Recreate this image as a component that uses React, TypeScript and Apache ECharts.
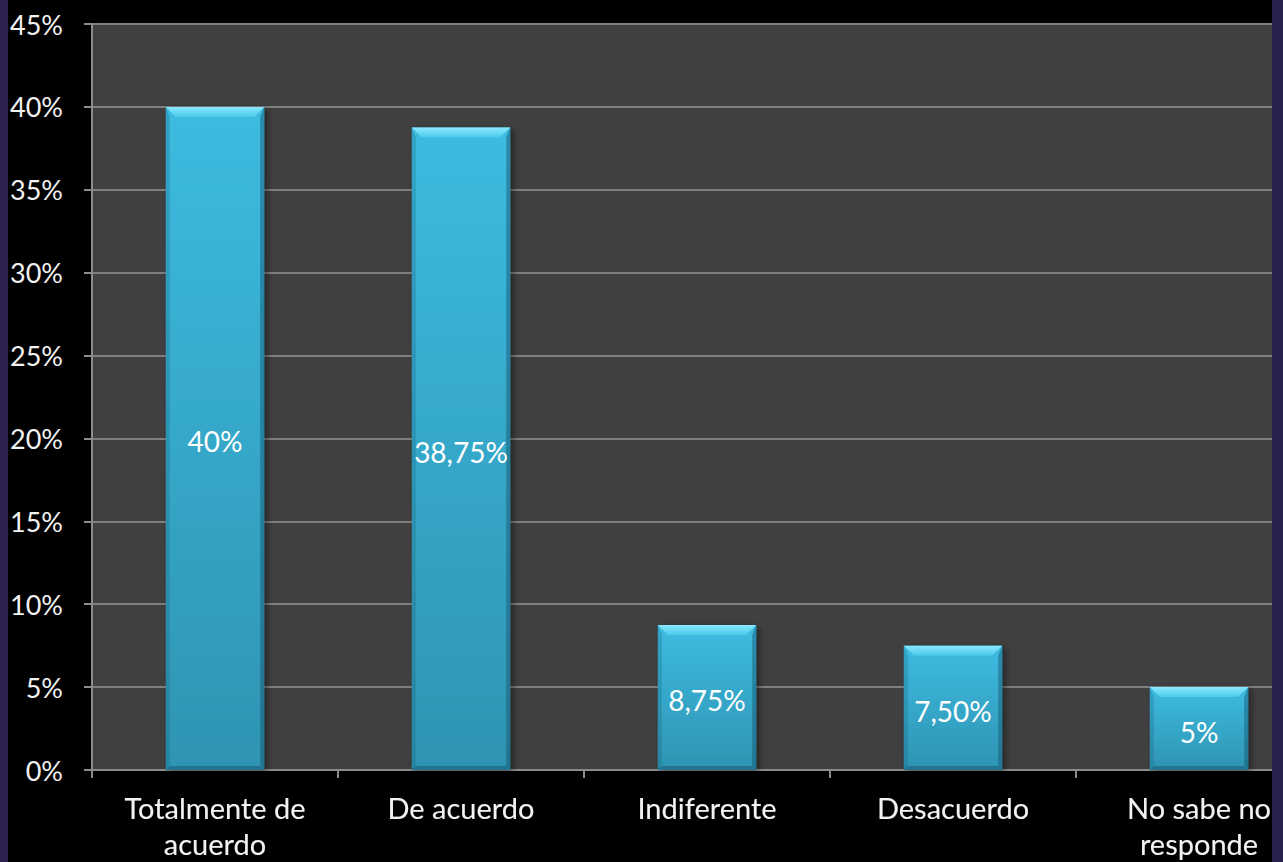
import React, { useEffect, useRef } from "react";
import * as echarts from "echarts";

const categories = ["Totalmente de\nacuerdo", "De acuerdo", "Indiferente", "Desacuerdo", "No sabe no\nresponde"];
const values = [40, 38.75, 8.75, 7.5, 5];
const yTicks = { min: 0, max: 45, interval: 5 };

const fmt = (v: number) => (Number.isInteger(v) ? `${v}%` : `${v.toFixed(2).replace(".", ",")}%`);

export default function App() {
  const ref = useRef<HTMLDivElement>(null);
  useEffect(() => {
    if (!ref.current) return;
    const chart = echarts.init(ref.current, undefined, { renderer: "svg" });
    const font = "Lato, 'Open Sans', sans-serif";
    chart.setOption({
      animation: false,
      backgroundColor: "#000000",
      grid: {
        left: 92,
        top: 24,
        bottom: 92,
        right: 8,
        backgroundColor: "#404040",
        show: true,
        borderWidth: 0,
        containLabel: false,
        outerBoundsMode: "none",
      },
      xAxis: {
        type: "category",
        data: categories,
        axisLine: { lineStyle: { color: "#8c8c8c", width: 2 } },
        axisTick: { show: true, length: 8, lineStyle: { color: "#8c8c8c", width: 2 } },
        axisLabel: {
          color: "#f2f2f2",
          fontSize: 29,
          fontFamily: font,
          margin: 19,
          lineHeight: 36,
          textShadowColor: "rgba(0,0,0,0.6)",
          textShadowBlur: 2,
        },
      },
      yAxis: {
        type: "value",
        min: yTicks.min,
        max: yTicks.max,
        interval: yTicks.interval,
        axisLine: { show: true, lineStyle: { color: "#8c8c8c", width: 2 } },
        axisTick: { show: true, length: 8, lineStyle: { color: "#8c8c8c", width: 2 } },
        axisLabel: { color: "#f2f2f2", fontSize: 27, fontFamily: font, margin: 29, formatter: "{value}%" },
        splitLine: { lineStyle: { color: "#7f7f7f", width: 2 } },
      },
      series: [
        {
          type: "custom",
          data: values.map((v, i) => [i, v]),
          encode: { x: 0, y: 1 },
          renderItem: (params: any, api: any) => {
            const v = api.value(1);
            const top = api.coord([api.value(0), v]);
            const base = api.coord([api.value(0), 0]);
            const bw = api.size([1, 0])[0] * 0.4;
            const x0 = top[0] - bw / 2;
            const x1 = top[0] + bw / 2;
            const y0 = top[1];
            const y1 = base[1];
            const b = 10;
            const s = 4;
            return {
              type: "group",
              children: [
                {
                  type: "rect",
                  shape: { x: x0, y: y0, width: bw, height: y1 - y0 },
                  style: {
                    fill: new echarts.graphic.LinearGradient(0, 0, 0, 1, [
                      { offset: 0, color: "#3dbbe1" },
                      { offset: 1, color: "#2e94b2" },
                    ]),
                    shadowBlur: 6,
                    shadowOffsetX: 3,
                    shadowOffsetY: 2,
                    shadowColor: "rgba(0,0,0,0.45)",
                  },
                },
                {
                  type: "polygon",
                  shape: { points: [[x0, y0], [x1, y0], [x1 - b, y0 + b], [x0 + b, y0 + b]] },
                  style: {
                    fill: new echarts.graphic.LinearGradient(0, 0, 0, 1, [
                      { offset: 0, color: "#8ae9ff" },
                      { offset: 1, color: "#4cc8ea" },
                    ]),
                  },
                },
                {
                  type: "polygon",
                  shape: { points: [[x0, y0], [x0 + s, y0 + b], [x0 + s, y1 - s], [x0, y1]] },
                  style: { fill: "rgba(20,90,115,0.25)" },
                },
                {
                  type: "polygon",
                  shape: { points: [[x1, y0], [x1 - s, y0 + b], [x1 - s, y1 - s], [x1, y1]] },
                  style: { fill: "rgba(15,70,95,0.4)" },
                },
                {
                  type: "polygon",
                  shape: { points: [[x0, y1], [x0 + s, y1 - s], [x1 - s, y1 - s], [x1, y1]] },
                  style: { fill: "rgba(15,70,95,0.4)" },
                },
                {
                  type: "text",
                  x: top[0],
                  y: (y0 + y1) / 2 + 3,
                  style: {
                    text: fmt(v),
                    fill: "#ffffff",
                    font: `28px ${font}`,
                    align: "center",
                    verticalAlign: "middle",
                  },
                },
              ],
            };
          },
          z: 3,
        },
      ],
      graphic: [
        { type: "rect", left: 0, top: 0, shape: { width: 8, height: 862 }, style: { fill: "#2e2050" }, z: 100 },
        { type: "rect", left: 1272, top: 0, shape: { width: 60, height: 862 }, style: { fill: "#2a2050" }, z: 100 },
      ],
    });
    return () => chart.dispose();
  }, []);
  return (
    <div style={{ position: "fixed", left: 0, top: 0, width: 1283, height: 862, overflow: "hidden" }}>
      <div ref={ref} style={{ width: 1330, height: 862 }} />
    </div>
  );
}
